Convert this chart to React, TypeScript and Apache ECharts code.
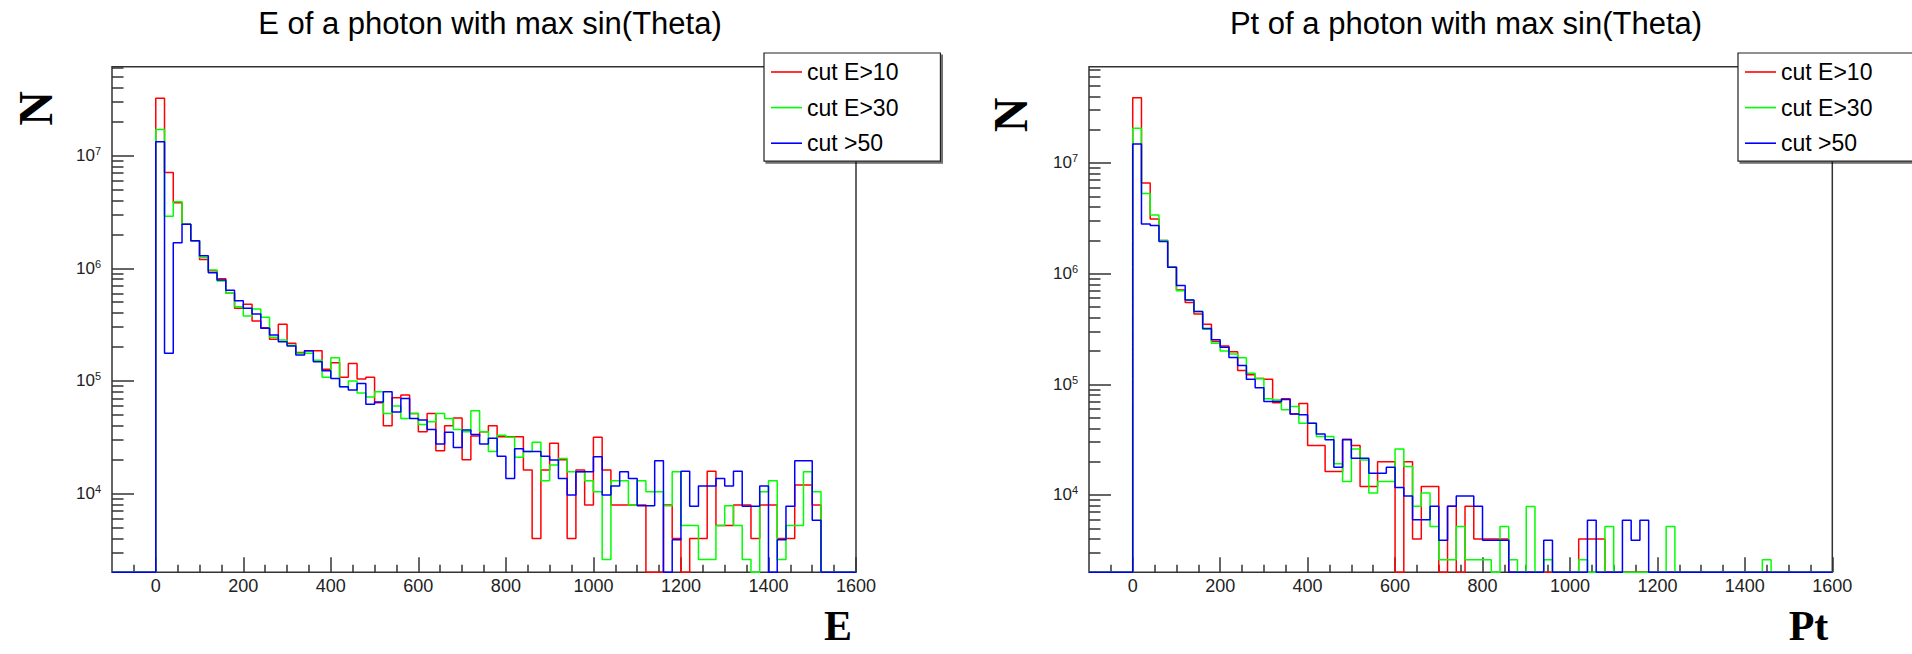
import React, { useEffect, useRef } from 'react';
import * as echarts from 'echarts';

// ---- histogram binning (ROOT TH1: 85 bins of 20 from -100 to 1600; filled bins start at 0) ----
const BIN_WIDTH = 20;
const X_MIN = -100;
const X_MAX = 1600;

const SERIES_NAMES = ['cut E>10', 'cut E>30', 'cut >50'];
const SERIES_COLORS = ['#ff0000', '#00ff00', '#0000ff'];

// ---- E of a photon with max sin(Theta): counts per 20-wide bin starting at 0 ----
const eCut10 = [
  3.24e7, 7.1e6, 3.83e6, 2.46e6, 1.76e6, 1.2e6, 9.5e5, 8.1e5, 6.0e5, 4.41e5,
  4.79e5, 3.4e5, 2.97e5, 2.35e5, 3.18e5, 2.16e5, 1.79e5, 1.85e5, 1.85e5, 1.27e5,
  1.45e5, 1.08e5, 1.43e5, 1.04e5, 1.08e5, 6.4e4, 4.0e4, 7.1e4, 7.5e4, 5.15e4,
  3.54e4, 5.15e4, 2.4e4, 4.0e4, 4.7e4, 2.0e4, 3.24e4, 3.54e4, 4.0e4, 3.2e4,
  3.2e4, 3.2e4, 1.62e4, 4.0e3, 1.62e4, 2.8e4, 2.0e4, 4.0e3, 1.62e4, 7.9e3,
  3.16e4, 1.62e4, 7.9e3, 7.9e3, 7.9e3, 7.9e3, 0, 0, 7.9e3, 4.0e3,
  0, 4.0e3, 4.0e3, 1.58e4, 5.2e3, 5.2e3, 7.9e3, 7.9e3, 4.0e3, 7.9e3,
  7.9e3, 4.0e3, 4.0e3, 1.19e4, 1.19e4, 7.9e3,
];
const eCut30 = [
  1.71e7, 2.9e6, 3.9e6, 2.46e6, 1.76e6, 1.25e6, 9.67e5, 7.7e5, 6.0e5, 4.56e5,
  3.77e5, 4.35e5, 3.67e5, 2.44e5, 2.31e5, 2.08e5, 1.76e5, 1.76e5, 1.53e5, 1.08e5,
  1.61e5, 8.9e4, 1.0e5, 7.8e4, 7.2e4, 8.0e4, 5.15e4, 6.0e4, 4.65e4, 5.15e4,
  4.1e4, 4.35e4, 5.15e4, 4.65e4, 3.7e4, 3.54e4, 5.45e4, 3.54e4, 2.36e4, 3.3e4,
  3.16e4, 2.1e4, 2.36e4, 2.86e4, 1.3e4, 1.79e4, 2.05e4, 1.56e4, 1.56e4, 1.3e4,
  1.04e4, 2.6e3, 1.3e4, 1.3e4, 7.9e3, 1.3e4, 1.04e4, 1.04e4, 7.8e3, 1.56e4,
  5.2e3, 5.2e3, 2.6e3, 2.6e3, 5.2e3, 7.8e3, 5.2e3, 2.6e3, 0, 1.04e4,
  1.3e4, 2.6e3, 5.2e3, 5.2e3, 1.56e4, 1.04e4,
];
const eCut50 = [
  1.33e7, 1.76e5, 1.69e6, 2.46e6, 1.76e6, 1.29e6, 9.15e5, 7.87e5, 6.4e5, 5.15e5,
  4.41e5, 3.93e5, 2.93e5, 2.56e5, 2.23e5, 2.04e5, 1.7e5, 1.85e5, 1.48e5, 1.23e5,
  1.05e5, 8.9e4, 8.3e4, 9.5e4, 6.2e4, 6.5e4, 8.0e4, 5.3e4, 7.0e4, 4.65e4,
  4.5e4, 3.7e4, 2.75e4, 3.5e4, 2.57e4, 3.66e4, 3.35e4, 2.75e4, 3.1e4, 2.15e4,
  1.36e4, 2.5e4, 2.36e4, 2.36e4, 2.15e4, 1.99e4, 1.36e4, 9.7e3, 1.56e4, 1.56e4,
  2.12e4, 9.7e3, 1.17e4, 1.56e4, 1.36e4, 7.8e3, 7.8e3, 1.96e4, 0, 3.9e3,
  1.58e4, 7.7e3, 1.17e4, 1.17e4, 1.36e4, 1.17e4, 1.58e4, 7.7e3, 7.7e3, 1.17e4,
  0, 3.9e3, 7.7e3, 1.96e4, 1.96e4, 5.8e3,
];

// ---- Pt of a photon with max sin(Theta) ----
const ptCut10 = [
  3.89e7, 6.6e6, 3.12e6, 1.99e6, 1.14e6, 7.1e5, 5.47e5, 4.32e5, 3.49e5, 2.43e5,
  2.22e5, 1.97e5, 1.33e5, 1.22e5, 1.13e5, 1.11e5, 6.8e4, 7.4e4, 5.4e4, 6.7e4,
  2.8e4, 2.8e4, 1.63e4, 1.63e4, 3.19e4, 2.8e4, 1.19e4, 1.19e4, 2.0e4, 2.0e4,
  0, 2.0e4, 4.0e3, 1.19e4, 1.19e4, 0, 7.9e3, 0, 7.9e3, 4.0e3,
  4.0e3, 4.0e3, 4.0e3, 0, 0, 0, 0, 0, 0, 0,
  0, 4.0e3, 4.0e3, 4.0e3, 0, 0, 0, 0, 0, 0,
  0, 0, 0, 0, 0, 0, 0, 0, 0, 0,
  0, 0, 0, 0, 0, 0,
];
const ptCut30 = [
  2.06e7, 5.3e6, 3.39e6, 1.99e6, 1.14e6, 7.0e5, 5.78e5, 4.54e5, 3.14e5, 2.35e5,
  2.0e5, 1.88e5, 1.74e5, 1.26e5, 1.13e5, 7.4e4, 7.2e4, 5.9e4, 6.3e4, 4.45e4,
  4.45e4, 3.37e4, 3.37e4, 1.91e4, 1.32e4, 2.6e4, 2.07e4, 1.04e4, 1.32e4, 1.32e4,
  2.6e4, 1.81e4, 7.9e3, 1.04e4, 5.2e3, 2.6e3, 2.6e3, 5.2e3, 2.6e3, 2.6e3,
  2.6e3, 0, 5.2e3, 2.6e3, 0, 7.85e3, 0, 2.6e3, 0, 0,
  0, 2.6e3, 0, 0, 5.2e3, 0, 0, 0, 0, 0,
  0, 5.2e3, 0, 0, 0, 0, 0, 0, 0, 0,
  0, 0, 2.6e3, 0, 0, 0,
];
const ptCut50 = [
  1.48e7, 2.81e6, 2.72e6, 1.95e6, 1.14e6, 7.8e5, 5.78e5, 4.54e5, 3.2e5, 2.52e5,
  2.16e5, 1.75e5, 1.48e5, 1.11e5, 9.3e4, 7.0e4, 7.0e4, 7.3e4, 5.4e4, 5.3e4,
  4.45e4, 3.56e4, 3.15e4, 1.78e4, 3.15e4, 2.15e4, 2.15e4, 1.57e4, 1.57e4, 1.78e4,
  1.17e4, 9.8e3, 5.96e3, 5.96e3, 7.9e3, 3.9e3, 7.9e3, 9.8e3, 9.8e3, 7.9e3,
  3.9e3, 3.9e3, 3.9e3, 0, 0, 0, 0, 3.9e3, 0, 0,
  0, 0, 5.9e3, 0, 0, 0, 5.9e3, 3.9e3, 5.9e3, 0,
  0, 0, 0, 0, 0, 0, 0, 0, 0, 0,
  0, 0, 0, 0, 0, 0,
];

// ---- axis ranges and ticks ----
const Y_MIN = 2000;
const E_Y_MAX = 6.17e7;
const PT_Y_MAX = 7.41e7;

const xTickValues = [0, 200, 400, 600, 800, 1000, 1200, 1400, 1600];
const xMinorTickValues = [
  -50, 50, 100, 150, 250, 300, 350, 450, 500, 550, 650, 700, 750, 850, 900, 950,
  1050, 1100, 1150, 1250, 1300, 1350, 1450, 1500, 1550,
];
const yTickValues = [1e4, 1e5, 1e6, 1e7];
const yMinorTickValues = [
  3e3, 4e3, 5e3, 6e3, 7e3, 8e3, 9e3,
  2e4, 3e4, 4e4, 5e4, 6e4, 7e4, 8e4, 9e4,
  2e5, 3e5, 4e5, 5e5, 6e5, 7e5, 8e5, 9e5,
  2e6, 3e6, 4e6, 5e6, 6e6, 7e6, 8e6, 9e6,
  2e7, 3e7, 4e7, 5e7, 6e7, 7e7,
];

const SANS = '"Liberation Sans", Arial, Helvetica, sans-serif';
const SERIF = '"Liberation Serif", "Times New Roman", serif';
const AXIS_COLOR = '#333';

// Step points for a ROOT-style histogram; empty bins are drawn on the frame floor like ROOT does.
function histPoints(values: number[]): [number, number][] {
  const pts: [number, number][] = [];
  for (let e = X_MIN; e < 0; e += BIN_WIDTH) pts.push([e, Y_MIN]);
  values.forEach((v, i) => pts.push([i * BIN_WIDTH, v > 0 ? v : Y_MIN]));
  for (let e = values.length * BIN_WIDTH; e < X_MAX; e += BIN_WIDTH) pts.push([e, Y_MIN]);
  pts.push([X_MAX, Y_MIN]);
  return pts;
}

function mainX(gridIndex: number, name: string) {
  return {
    type: 'value', gridIndex, min: X_MIN, max: X_MAX, position: 'bottom',
    axisLine: { show: false, onZero: false }, splitLine: { show: false },
    axisTick: { show: true, inside: true, length: 15, customValues: xTickValues, lineStyle: { color: AXIS_COLOR, width: 1.5 } },
    axisLabel: { customValues: xTickValues, margin: 5, fontSize: 18, color: '#222', fontFamily: SANS, formatter: (v: number) => String(v) },
    name, nameLocation: 'end', nameGap: 0, nameMoveOverlap: false,
    nameTextStyle: { fontFamily: SERIF, fontWeight: 'bold', fontSize: 42, lineHeight: 34, color: '#000', align: 'right', verticalAlign: 'top', padding: [37, 4, 0, 0] },
  };
}
function minorX(gridIndex: number) {
  return {
    type: 'value', gridIndex, min: X_MIN, max: X_MAX, position: 'bottom',
    axisLine: { show: false, onZero: false }, splitLine: { show: false }, axisLabel: { show: false },
    axisTick: { show: true, inside: true, length: 7.5, customValues: xMinorTickValues, lineStyle: { color: AXIS_COLOR, width: 1.5 } },
  };
}
function mainY(gridIndex: number, max: number) {
  return {
    type: 'log', logBase: 10, gridIndex, min: Y_MIN, max, position: 'left',
    axisLine: { show: false, onZero: false }, splitLine: { show: false },
    axisTick: { show: true, inside: true, length: 22, customValues: yTickValues, lineStyle: { color: AXIS_COLOR, width: 1.5 } },
    axisLabel: {
      customValues: yTickValues, margin: 11,
      formatter: (v: number) => `{b|10}{s|${Math.round(Math.log10(v))}}`,
      rich: {
        b: { fontSize: 17, fontFamily: SANS, color: '#222', lineHeight: 20 },
        s: { fontSize: 11, fontFamily: SANS, color: '#222', verticalAlign: 'top', lineHeight: 12 },
      },
    },
  };
}
function minorY(gridIndex: number, max: number) {
  return {
    type: 'log', logBase: 10, gridIndex, min: Y_MIN, max, position: 'left',
    axisLine: { show: false, onZero: false }, splitLine: { show: false }, axisLabel: { show: false },
    axisTick: { show: true, inside: true, length: 11.5, customValues: yMinorTickValues, lineStyle: { color: AXIS_COLOR, width: 1.5 } },
  };
}

function histSeries(values: number[], idx: number, axisIndex: number) {
  return {
    type: 'line', name: SERIES_NAMES[idx], step: 'end', symbol: 'none', showSymbol: false,
    xAxisIndex: axisIndex, yAxisIndex: axisIndex,
    lineStyle: { color: SERIES_COLORS[idx], width: 1.5 }, itemStyle: { color: SERIES_COLORS[idx] },
    data: histPoints(values), z: 3 + idx,
  };
}

function legendAt(left: number) {
  return {
    orient: 'vertical', left, top: 53, padding: [7, 42, 6, 7],
    icon: 'rect', itemWidth: 31, itemHeight: 1.6, itemGap: 11.6,
    backgroundColor: '#fff', borderColor: '#222', borderWidth: 1.2,
    shadowColor: 'rgba(0,0,0,0.55)', shadowOffsetX: 2, shadowOffsetY: 2, shadowBlur: 0,
    textStyle: { fontSize: 23, lineHeight: 24, color: '#000', fontFamily: SANS },
    data: SERIES_NAMES, selectedMode: false,
  };
}

export default function App() {
  const ref = useRef<HTMLDivElement>(null);
  useEffect(() => {
    if (!ref.current) return;
    const chart = echarts.init(ref.current, undefined, { renderer: 'svg' });
    const titleStyle = { fontSize: 31, fontWeight: 'normal', fontFamily: SANS, color: '#000' };
    chart.setOption({
      animation: false,
      backgroundColor: '#fff',
      title: [
        { text: 'E of a photon with max sin(Theta)', left: 485, top: 3, textAlign: 'center', textStyle: titleStyle },
        { text: 'Pt of a photon with max sin(Theta)', left: 1461, top: 3, textAlign: 'center', textStyle: titleStyle },
      ],
      legend: [legendAt(764), legendAt(1738)],
      grid: [
        { left: 112, top: 66.7, width: 744, height: 505.6, show: true, borderColor: AXIS_COLOR, borderWidth: 1.5, backgroundColor: 'transparent' },
        { left: 1089, top: 66.7, width: 743.3, height: 505.6, show: true, borderColor: AXIS_COLOR, borderWidth: 1.5, backgroundColor: 'transparent' },
      ],
      xAxis: [mainX(0, 'E'), mainX(1, 'Pt'), minorX(0), minorX(1)],
      yAxis: [mainY(0, E_Y_MAX), mainY(1, PT_Y_MAX), minorY(0, E_Y_MAX), minorY(1, PT_Y_MAX)],
      graphic: [
        { type: 'text', x: 35, y: 108.5, rotation: Math.PI / 2, style: { text: 'N', font: `bold 48px ${SERIF}`, fill: '#000', align: 'center', verticalAlign: 'middle' } },
        { type: 'text', x: 1010, y: 115, rotation: Math.PI / 2, style: { text: 'N', font: `bold 48px ${SERIF}`, fill: '#000', align: 'center', verticalAlign: 'middle' } },
      ],
      series: [
        histSeries(eCut10, 0, 0), histSeries(eCut30, 1, 0), histSeries(eCut50, 2, 0),
        histSeries(ptCut10, 0, 1), histSeries(ptCut30, 1, 1), histSeries(ptCut50, 2, 1),
      ],
    });
    return () => chart.dispose();
  }, []);
  return <div ref={ref} style={{ position: 'absolute', left: 0, top: 0, width: 1912, height: 654 }} />;
}
